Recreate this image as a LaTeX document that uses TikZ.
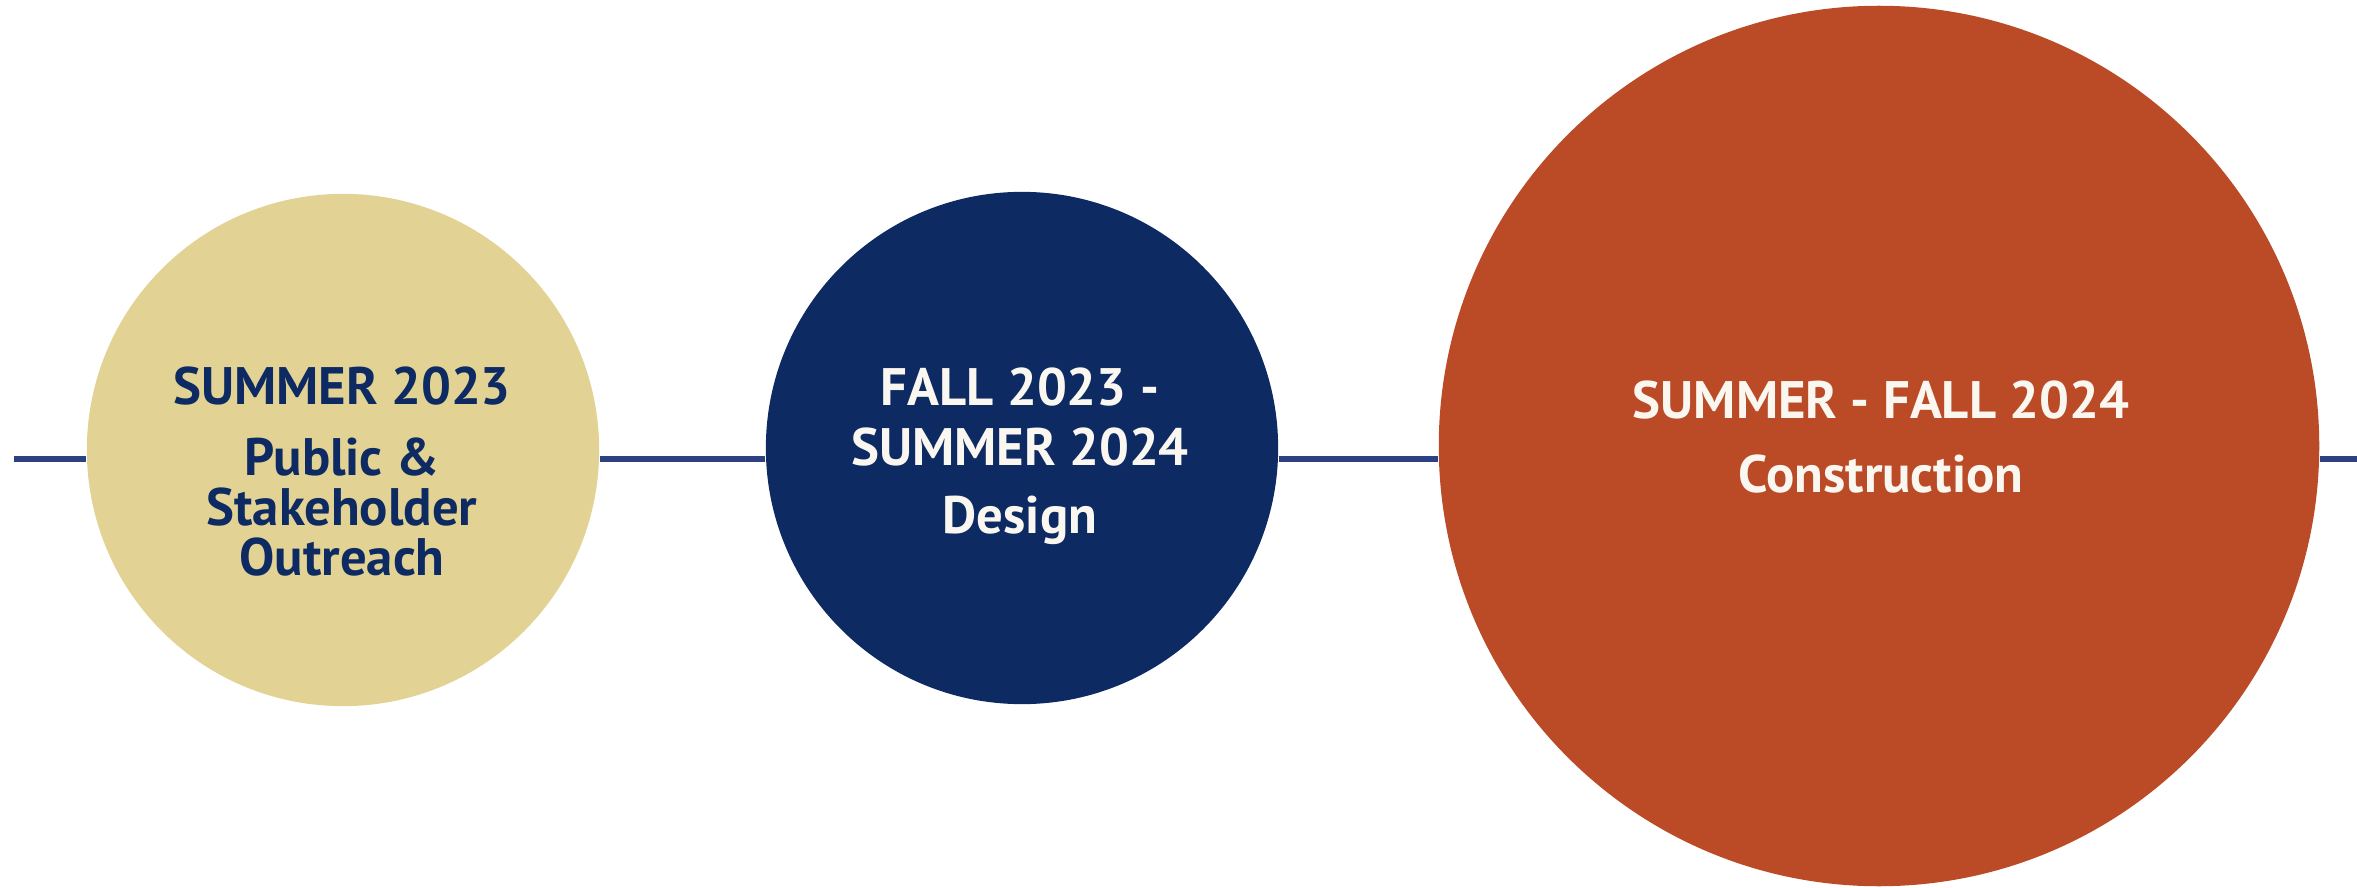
\documentclass[tikz,border=0pt]{standalone}
\usepackage{fontspec}
\setmainfont{PT Sans}
\definecolor{sand}{RGB}{226,210,148}
\definecolor{navy}{RGB}{13,42,99}
\definecolor{rust}{RGB}{187,75,39}
\definecolor{linecol}{RGB}{44,64,130}
\definecolor{offwhite}{RGB}{250,246,240}
\begin{document}
\begin{tikzpicture}[x=0.01cm, y=-0.01cm,
    phase/.style ={circle, inner sep=0pt},
    caption/.style ={anchor=base, font=\bfseries\fontsize{15}{18}\selectfont},
    timeline/.style ={draw=linecol, line width=1.5pt}]
   \useasboundingbox (0,0) rectangle (2357,888);
   \node[phase, fill=sand, minimum size=5.12cm] (A) at (343,450) {};
   \node[phase, fill=navy, minimum size=5.12cm] (B) at (1022,448) {};
   \node[phase, fill=rust, minimum size=8.8cm] (C) at (1879,446) {};
   \coordinate (start) at (14,459);
   \coordinate (finish) at (2357,459);
   \draw[timeline] (start) to (A.west |- start);
   \draw[timeline] (A.east |- start) to (B.west |- start);
   \draw[timeline] (B.east |- start) to (C.west |- start);
   \draw[timeline] (C.east |- start) to (finish);
   \node[caption, text=navy] (A1) at (342,404) {SUMMER 2023};
   \node[caption, text=navy] (A2) at (342,475) {Public \&};
   \node[caption, text=navy] (A3) at (342,525) {Stakeholder};
   \node[caption, text=navy] (A4) at (342,575) {Outreach};
   \node[caption, text=offwhite] (B1) at (1020,405) {FALL 2023 -};
   \node[caption, text=offwhite] (B2) at (1020,465) {SUMMER 2024};
   \node[caption, text=offwhite] (B3) at (1020,533) {Design};
   \node[caption, text=offwhite] (C1) at (1881,419) {SUMMER - FALL 2024};
   \node[caption, text=offwhite] (C2) at (1881,492) {Construction};
\end{tikzpicture}
\end{document}
